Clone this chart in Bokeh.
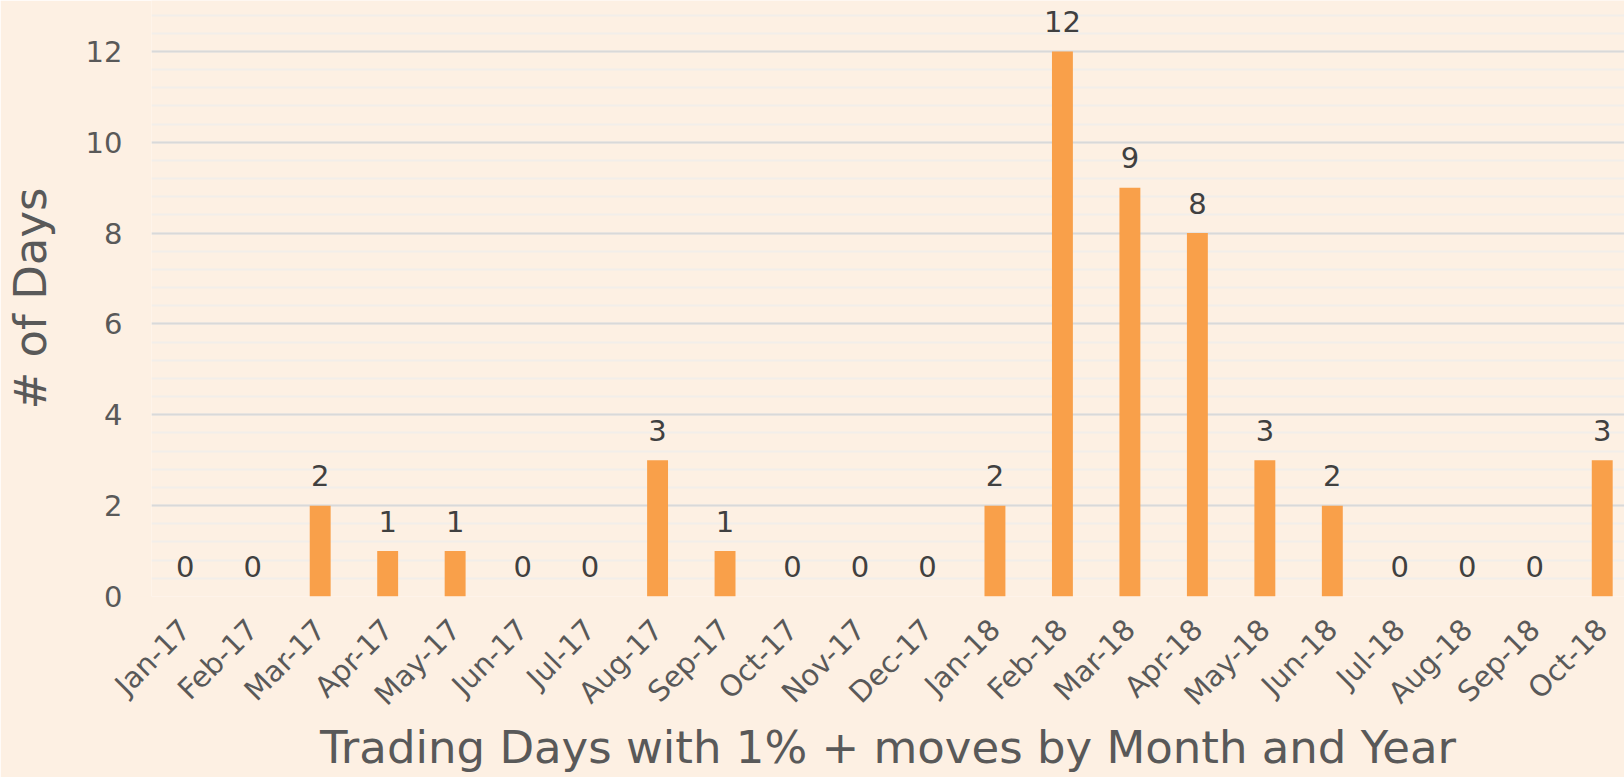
import math
from bokeh.plotting import figure
from bokeh.models import ColumnDataSource, Range1d, FixedTicker
from bokeh.embed import file_html
from bokeh.resources import INLINE
from bokeh.core.properties import value

months = ["Jan-17", "Feb-17", "Mar-17", "Apr-17", "May-17", "Jun-17", "Jul-17",
          "Aug-17", "Sep-17", "Oct-17", "Nov-17", "Dec-17", "Jan-18", "Feb-18",
          "Mar-18", "Apr-18", "May-18", "Jun-18", "Jul-18", "Aug-18", "Sep-18", "Oct-18"]
days = [0, 0, 2, 1, 1, 0, 0, 3, 1, 0, 0, 0, 2, 12, 9, 8, 3, 2, 0, 0, 0, 3]
y_ticks = [0, 2, 4, 6, 8, 10, 12]
x_title = "Trading Days with 1% + moves by Month and Year"
y_title = "# of Days"

FONT = "DejaVu Sans"
BG = "#FDF0E3"
GRAY = "#595959"

xpos = [i + 0.5 for i in range(len(months))]
src = ColumnDataSource(dict(x=xpos, top=days, label=[str(d) for d in days]))

p = figure(width=1624, height=777, output_backend="svg", toolbar_location=None,
           x_range=Range1d(0, 21.83), y_range=Range1d(0, 13.12),
           min_border_left=149, min_border_right=0, min_border_top=0,
           min_border_bottom=181)
p.background_fill_color = BG
p.border_fill_color = BG
p.outline_line_color = None

p.vbar(x="x", top="top", width=0.31, bottom=0, source=src,
       fill_color="#F9A04A", line_color=None)
p.text(x="x", y="top", text="label", source=src, y_offset=-30,
       text_align="center", text_baseline="alphabetic",
       text_font=value(FONT), text_font_size="29px", text_color="#404040")

minor = [i * 0.4 for i in range(0, 33)]
p.yaxis.ticker = FixedTicker(ticks=y_ticks, minor_ticks=minor)
p.xaxis.ticker = FixedTicker(ticks=xpos)
p.xaxis.major_label_overrides = {x: m for x, m in zip(xpos, months)}

p.xgrid.grid_line_color = None
p.ygrid.grid_line_color = "#D9D9D9"
p.ygrid.grid_line_width = 2
p.ygrid.minor_grid_line_color = "#F2EEEA"
p.ygrid.minor_grid_line_width = 2

for ax in (p.xaxis, p.yaxis):
    ax.axis_line_color = None
    ax.major_tick_line_color = None
    ax.minor_tick_line_color = None
    ax.major_label_text_font = FONT
    ax.major_label_text_color = GRAY
    ax.axis_label_text_font = FONT
    ax.axis_label_text_font_size = "45px"
    ax.axis_label_text_font_style = "normal"
    ax.axis_label_text_color = GRAY

p.yaxis.major_label_text_font_size = "29px"
p.yaxis.major_label_standoff = 23
p.yaxis.axis_label = y_title
p.yaxis.axis_label_standoff = 26

p.xaxis.major_label_text_font_size = "29px"
p.xaxis.major_label_orientation = math.pi / 4
p.xaxis.major_label_standoff = 22
p.xaxis.axis_label = x_title
p.xaxis.axis_label_standoff = -6

html = file_html(p, INLINE)
html = html.replace("<body>", '<body style="background-color:%s;">' % BG, 1)
open("out.html", "w").write(html)
